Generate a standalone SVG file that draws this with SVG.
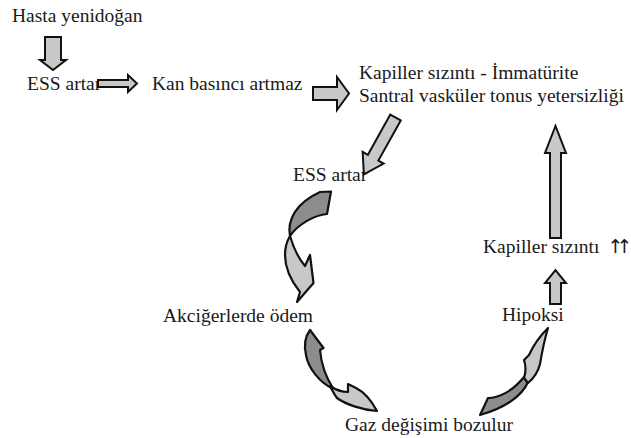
<svg xmlns="http://www.w3.org/2000/svg" width="631" height="438" viewBox="0 0 631 438">
<style>
text{font-family:"Liberation Serif","Times New Roman",serif;font-size:19.5px;fill:#1a1a1a}
.up{font-family:"DejaVu Sans",sans-serif;font-size:19px;letter-spacing:-7px}
.a{fill:#c8c8c8;stroke:#111;stroke-width:2;stroke-linejoin:miter}
.d{fill:#8c8c8c;stroke:#111;stroke-width:2.2;stroke-linejoin:round}
.l{fill:#c8c8c8;stroke:#111;stroke-width:2.2;stroke-linejoin:round}
</style>
<rect width="631" height="438" fill="#fff"/>
<g id="n-hasta"><text x="12" y="22">Hasta yenidoğan</text></g>
<g id="n-ess1"><text x="27" y="90">ESS artar</text></g>
<g id="n-kan"><text x="152" y="90">Kan basıncı artmaz</text></g>
<g id="n-kapiller"><text x="359" y="79">Kapiller sızıntı - İmmatürite</text><text x="359" y="102">Santral vasküler tonus yetersizliği</text></g>
<g id="n-ess2"><text x="293" y="181">ESS artar</text></g>
<g id="n-akciger"><text x="163" y="322">Akciğerlerde ödem</text></g>
<g id="n-gaz"><text x="345" y="431">Gaz değişimi bozulur</text></g>
<g id="n-hipoksi"><text x="502" y="321">Hipoksi</text></g>
<g id="n-sizinti"><text x="483" y="253">Kapiller sızıntı <tspan class="up" x="607.5">↑↑</tspan></text></g>
<g id="connectors">
<polygon class="a" points="45,37 61,37 61,60 66,60 53,70 40,60 45,60"/>
<polygon class="a" points="98,80 128,80 128,75 137,83.5 128,92 128,87 98,87"/>
<polygon class="a" points="313,87 337,87 337,77 349,93.5 337,110 337,100 313,100"/>
<polygon class="a" transform="translate(395.5,117.5) rotate(119.1)" points="0,-6 46,-6 46,-12 65,0 46,12 46,6 0,6"/>
<polygon class="a" points="550,238 550,153 545,153 555.5,126 566,153 561,153 561,238"/>
<polygon class="a" points="550,304 550,283 545,283 555.5,270 566,283 561,283 561,304"/>
<path class="d" d="M320,192 L331,191.5 L327,214 C315,215 298,224 290,236 C287,220 296,203 320,192 Z"/>
<path class="l" d="M290,236 C293,246 299,259 305,266 L310,255 L313.5,283 L297,302 L300,292 C292,282 285,268 285,255 C285,247 287,241 290,236 Z"/>
<path class="d" d="M310,330 L323.5,348 L320,350 C321,362 325,376 333.5,389 C320,383 308,368 306,355 C304,346 304,338 310,330 Z"/>
<path class="l" d="M330,386 C336,390 342,392 348,392 L348,384 L356,388 C364,392 370,398 377,411 C362,410 345,404 337,398 C334,394 332,390 330,386 Z"/>
<path class="d" d="M480,415 L488,398 C498,398 512,392 524,377 L528,382 C522,396 505,408 480,415 Z"/>
<path class="l" d="M524,378 C526,372 526,366 524,360 L529,355 C533,346 540,336 548,328 C545,338 542,352 540,364 C538,372 534,378 528,383 Z"/>
</g>
</svg>
